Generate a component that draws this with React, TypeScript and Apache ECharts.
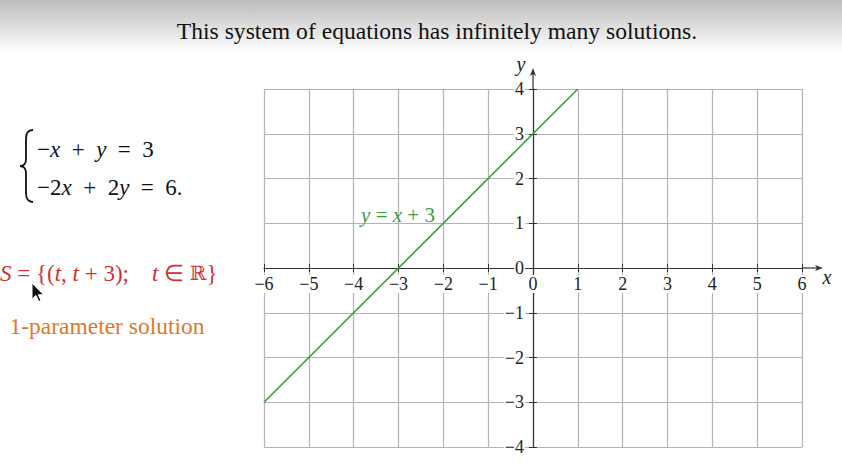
import React, { useEffect, useRef } from 'react';
import * as echarts from 'echarts';

// ---- data ----
const xRange = [-6, 6];
const yRange = [-4, 4];
const lineX = [-6, 1];
const lineY = [-3, 4];
const titleText = 'This system of equations has infinitely many solutions.';
const eqLine1 = '{n|−}{i|x}{n|  +  }{i|y}{n|  =  3}';
const eqLine2 = '{n|−2}{i|x}{n|  +  2}{i|y}{n|  =  6.}';
const solutionSet = '{i|S}{n| = {(}{i|t}{n|, }{i|t}{n| + 3);    }{i|t}{n| ∈ }{r|ℝ}}';
const solutionNote = '1-parameter solution';
const lineLabel = '{i|y}{n| = }{i|x}{n| + 3}';

const FAM = 'Liberation Serif';

echarts.graphic.registerShape(
  'brace',
  echarts.graphic.extendPath(
    'M13,0 C8,0 6,3 6,9 L6,29 C6,33 4,36 0,36 C4,36 6,39 6,43 L6,63 C6,69 8,72 13,72',
    {}
  )
);

const fmt = (v: number) => (v < 0 ? '−' + Math.abs(v) : String(v));

const GRID = { left: 264, right: 40, top: 89, bottom: 26 };
const W = 842;
const H = 473;

export default function App() {
  const ref = useRef<HTMLDivElement>(null);
  useEffect(() => {
    const chart = echarts.init(ref.current!, null, { renderer: 'svg' });
    const axisColor = '#333';
    const gridColor = '#b4b4b4';
    const gw = W - GRID.left - GRID.right;
    const gh = H - GRID.top - GRID.bottom;
    const xAxisOffset = -(gh * (0 - yRange[0])) / (yRange[1] - yRange[0]);
    const xAxisOffsetTop = -(gh * (yRange[1] - 0)) / (yRange[1] - yRange[0]);
    const yAxisOffset = -(gw * (0 - xRange[0])) / (xRange[1] - xRange[0]);
    const yAxisOffsetRight = -(gw * (xRange[1] - 0)) / (xRange[1] - xRange[0]);
    const tickOnly = {
      axisLine: { show: false },
      axisLabel: { show: false },
      splitLine: { show: false },
      axisTick: { show: true, length: 4, lineStyle: { color: axisColor } },
    };
    chart.setOption({
      animation: false,
      backgroundColor: '#ffffff',
      grid: { ...GRID, containLabel: false },
      xAxis: [
        {
          type: 'value',
          position: 'bottom',
          offset: xAxisOffset,
          min: xRange[0],
          max: xRange[1],
          interval: 1,
          axisLine: { show: true, onZero: false, lineStyle: { color: axisColor, width: 1.2 } },
          axisTick: { show: true, length: 4, lineStyle: { color: axisColor } },
          axisLabel: {
            formatter: fmt,
            fontFamily: FAM,
            fontSize: 18,
            color: '#222',
            margin: 7,
            backgroundColor: '#fff',
            padding: [0, 1],
          },
          splitLine: { show: true, lineStyle: { color: gridColor, width: 1.2 } },
        },
        {
          type: 'value',
          position: 'top',
          offset: xAxisOffsetTop,
          min: xRange[0],
          max: xRange[1],
          interval: 1,
          ...tickOnly,
        },
      ],
      yAxis: [
        {
          type: 'value',
          position: 'left',
          offset: yAxisOffset,
          min: yRange[0],
          max: yRange[1],
          interval: 1,
          axisLine: { show: true, onZero: false, lineStyle: { color: axisColor, width: 1.2 } },
          axisTick: { show: true, length: 4, lineStyle: { color: axisColor } },
          axisLabel: {
            formatter: fmt,
            fontFamily: FAM,
            fontSize: 18,
            color: '#222',
            margin: 8,
            backgroundColor: '#fff',
            padding: [0, 1],
          },
          splitLine: { show: true, lineStyle: { color: gridColor, width: 1.2 } },
        },
        {
          type: 'value',
          position: 'right',
          offset: yAxisOffsetRight,
          min: yRange[0],
          max: yRange[1],
          interval: 1,
          ...tickOnly,
        },
      ],
      series: [
        {
          type: 'line',
          xAxisIndex: 0,
          yAxisIndex: 0,
          data: lineX.map((x, i) => [x, lineY[i]]),
          showSymbol: false,
          lineStyle: { color: '#3c9c3c', width: 1.6 },
          z: 5,
        },
      ],
    });

    const pEnd = chart.convertToPixel({ gridIndex: 0 }, [xRange[1], 0]) as number[];
    const pTop = chart.convertToPixel({ gridIndex: 0 }, [0, yRange[1]]) as number[];
    const xArrowTip = pEnd[0] + 21;
    const yArrowTip = pTop[1] - 21;

    const richBlack = {
      n: { fontFamily: FAM, fontSize: 23, fill: '#111' },
      i: { fontFamily: FAM, fontSize: 23, fontStyle: 'italic', fill: '#111' },
    };

    chart.setOption({
      graphic: [
        {
          type: 'rect',
          shape: { x: 0, y: 0, width: W, height: 52 },
          style: {
            fill: new echarts.graphic.LinearGradient(0, 0, 0, 1, [
              { offset: 0, color: '#bcbcbc' },
              { offset: 1, color: '#ffffff' },
            ]),
          },
          silent: true,
        },
        {
          type: 'text',
          x: 437,
          y: 31,
          style: {
            text: titleText,
            fontFamily: FAM,
            fontSize: 23.6,
            fill: '#111',
            align: 'center',
            verticalAlign: 'middle',
          },
        },
        {
          type: 'brace',
          x: 20,
          y: 130,
          style: { stroke: '#111', fill: 'none', lineWidth: 1.8 },
        },
        {
          type: 'text',
          x: 37,
          y: 149,
          style: {
            text: eqLine1,
            fontFamily: FAM,
            fontSize: 23,
            fill: '#111',
            verticalAlign: 'middle',
            rich: richBlack,
          },
        },
        {
          type: 'text',
          x: 37,
          y: 187,
          style: {
            text: eqLine2,
            fontFamily: FAM,
            fontSize: 23,
            fill: '#111',
            verticalAlign: 'middle',
            rich: richBlack,
          },
        },
        {
          type: 'text',
          x: 0,
          y: 273,
          style: {
            text: solutionSet,
            fontFamily: FAM,
            fontSize: 23,
            fill: '#cc3333',
            verticalAlign: 'middle',
            rich: {
              n: { fontFamily: FAM, fontSize: 23, fill: '#cc3333' },
              i: { fontFamily: FAM, fontSize: 23, fontStyle: 'italic', fill: '#cc3333' },
              r: { fontFamily: 'DejaVu Serif', fontSize: 20, fill: '#cc3333' },
            },
          },
        },
        {
          type: 'text',
          x: 107,
          y: 326,
          style: {
            text: solutionNote,
            fontFamily: FAM,
            fontSize: 23.5,
            fill: '#e0782a',
            align: 'center',
            verticalAlign: 'middle',
          },
        },
        {
          type: 'polygon',
          x: 32,
          y: 283,
          shape: {
            points: [
              [0, 0],
              [0, 16],
              [4, 12.5],
              [6.8, 18.5],
              [9, 17.5],
              [6.3, 11.8],
              [11.5, 11.8],
            ],
          },
          style: { fill: '#111', stroke: '#fff', lineWidth: 1 },
          z: 20,
        },
        {
          type: 'line',
          shape: { x1: pEnd[0], y1: pEnd[1], x2: xArrowTip - 3, y2: pEnd[1] },
          style: { stroke: axisColor, lineWidth: 1.2 },
        },
        {
          type: 'polygon',
          shape: {
            points: [
              [xArrowTip, pEnd[1]],
              [xArrowTip - 8, pEnd[1] - 3],
              [xArrowTip - 6, pEnd[1]],
              [xArrowTip - 8, pEnd[1] + 3],
            ],
          },
          style: { fill: axisColor },
        },
        {
          type: 'line',
          shape: { x1: pTop[0], y1: pTop[1], x2: pTop[0], y2: yArrowTip + 3 },
          style: { stroke: axisColor, lineWidth: 1.2 },
        },
        {
          type: 'polygon',
          shape: {
            points: [
              [pTop[0], yArrowTip],
              [pTop[0] - 3, yArrowTip + 8],
              [pTop[0], yArrowTip + 6],
              [pTop[0] + 3, yArrowTip + 8],
            ],
          },
          style: { fill: axisColor },
        },
        {
          type: 'text',
          x: xArrowTip + 4,
          y: pEnd[1] + 9,
          style: {
            text: 'x',
            fontFamily: FAM,
            fontSize: 20,
            fontStyle: 'italic',
            fill: '#222',
            align: 'center',
            verticalAlign: 'middle',
          },
        },
        {
          type: 'text',
          x: pTop[0] - 12,
          y: yArrowTip - 4,
          style: {
            text: 'y',
            fontFamily: FAM,
            fontSize: 20,
            fontStyle: 'italic',
            fill: '#222',
            align: 'center',
            verticalAlign: 'middle',
          },
        },
        {
          type: 'text',
          x: 398,
          y: 215,
          style: {
            text: lineLabel,
            fontFamily: FAM,
            fontSize: 21,
            fill: '#3c9c3c',
            verticalAlign: 'middle',
            align: 'center',
            rich: {
              n: { fontFamily: FAM, fontSize: 21, fill: '#3c9c3c' },
              i: { fontFamily: FAM, fontSize: 21, fontStyle: 'italic', fill: '#3c9c3c' },
            },
          },
        },
      ],
    });
    return () => chart.dispose();
  }, []);
  return (
    <div
      ref={ref}
      style={{ position: 'fixed', left: 0, top: 0, width: W, height: H }}
    />
  );
}
